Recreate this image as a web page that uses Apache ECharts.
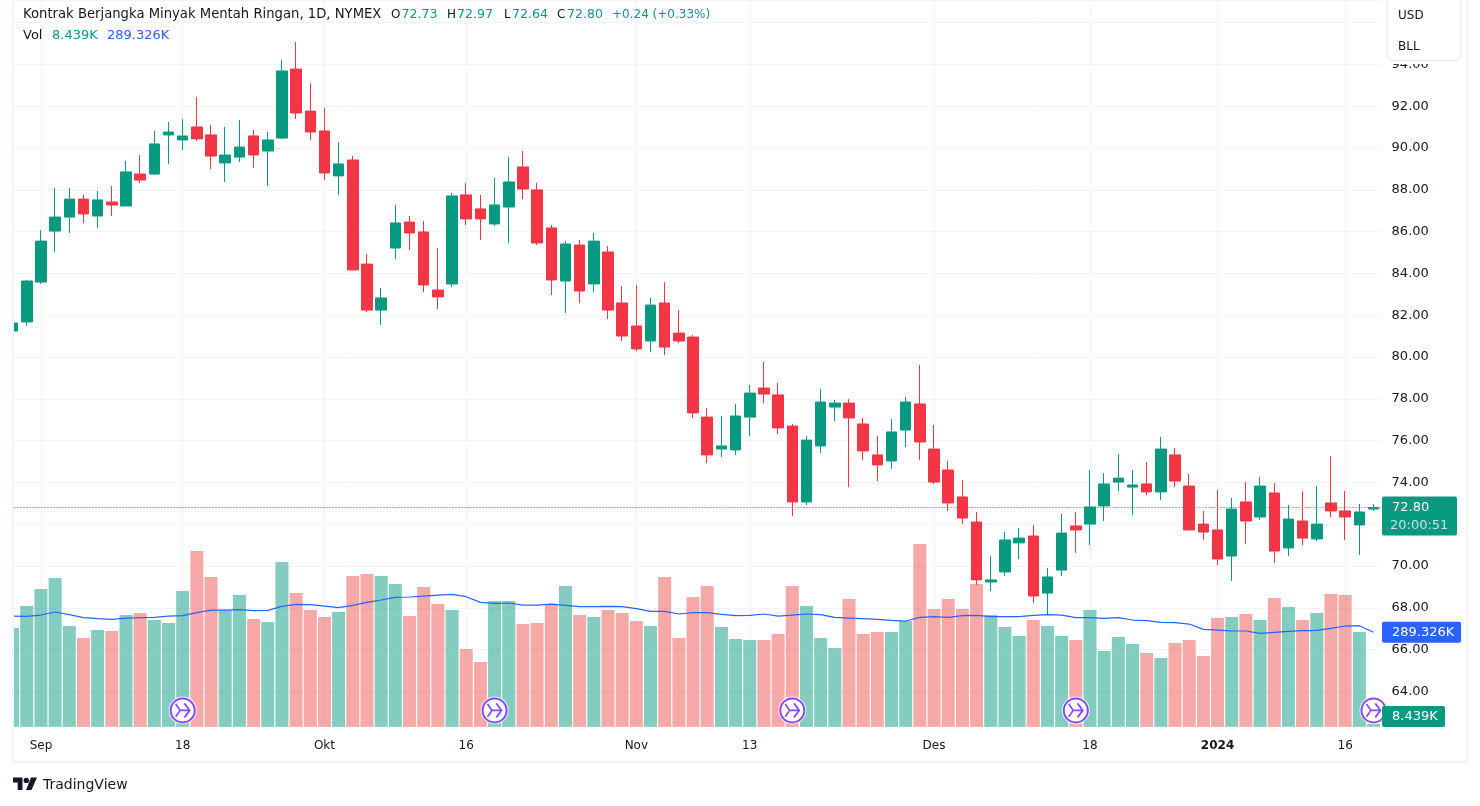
<!DOCTYPE html>
<html>
<head>
<meta charset="utf-8">
<style>html,body{margin:0;padding:0;background:#fff}#c{width:1480px;height:806px}</style>
<script src="https://cdn.jsdelivr.net/npm/echarts@6/dist/echarts.min.js"></script>
</head>
<body>
<div id="c"></div>
<script>
const categories = ["2023-08-30","2023-08-31","2023-09-01","2023-09-05","2023-09-06","2023-09-07","2023-09-08","2023-09-11","2023-09-12","2023-09-13","2023-09-14","2023-09-15","2023-09-18","2023-09-19","2023-09-20","2023-09-21","2023-09-22","2023-09-25","2023-09-26","2023-09-27","2023-09-28","2023-09-29","2023-10-02","2023-10-03","2023-10-04","2023-10-05","2023-10-06","2023-10-09","2023-10-10","2023-10-11","2023-10-12","2023-10-13","2023-10-16","2023-10-17","2023-10-18","2023-10-19","2023-10-20","2023-10-23","2023-10-24","2023-10-25","2023-10-26","2023-10-27","2023-10-30","2023-10-31","2023-11-01","2023-11-02","2023-11-03","2023-11-06","2023-11-07","2023-11-08","2023-11-09","2023-11-10","2023-11-13","2023-11-14","2023-11-15","2023-11-16","2023-11-17","2023-11-20","2023-11-21","2023-11-22","2023-11-24","2023-11-27","2023-11-28","2023-11-29","2023-11-30","2023-12-01","2023-12-04","2023-12-05","2023-12-06","2023-12-07","2023-12-08","2023-12-11","2023-12-12","2023-12-13","2023-12-14","2023-12-15","2023-12-18","2023-12-19","2023-12-20","2023-12-21","2023-12-22","2023-12-26","2023-12-27","2023-12-28","2023-12-29","2024-01-02","2024-01-03","2024-01-04","2024-01-05","2024-01-08","2024-01-09","2024-01-10","2024-01-11","2024-01-12","2024-01-16","2024-01-17","2024-01-18"];
const opens = [81.25,81.68,83.59,86.03,86.70,87.56,86.75,87.42,87.23,88.76,88.76,90.63,90.39,91.01,90.63,89.29,89.57,90.58,89.86,90.48,93.78,91.77,90.82,88.67,89.43,84.45,82.25,85.22,86.46,85.99,83.21,83.50,87.76,87.09,86.37,87.18,89.10,88.00,86.18,83.64,85.36,83.50,85.03,82.59,81.49,80.77,82.59,81.15,80.96,77.13,75.60,75.56,77.13,78.52,78.19,76.70,73.07,75.75,77.61,77.80,76.80,75.32,75.03,76.51,77.76,75.60,74.60,73.31,72.11,69.24,69.72,71.11,71.44,68.71,69.81,71.92,72.01,72.88,74.02,73.78,73.93,73.55,75.32,73.83,72.01,71.73,70.48,73.07,72.35,73.50,70.87,72.16,71.30,73.02,72.64,71.97,72.73];
const closes = [81.63,83.64,85.55,86.70,87.56,86.85,87.52,87.28,88.86,88.47,90.20,90.77,90.58,90.44,89.62,89.67,90.05,89.67,90.39,93.69,91.68,90.77,88.81,89.24,84.17,82.25,82.83,86.42,85.94,83.45,82.88,87.71,86.61,86.61,87.28,88.38,88.04,85.46,83.69,85.41,83.16,85.55,82.25,81.01,80.39,82.49,80.48,80.77,77.33,75.32,75.75,77.18,78.28,78.23,76.61,73.07,76.03,77.85,77.80,77.09,75.51,74.84,76.42,77.85,75.94,74.02,73.02,72.30,69.34,69.34,71.25,71.34,68.57,69.48,71.58,71.73,72.83,73.93,74.21,73.88,73.55,75.60,74.07,71.73,71.63,70.34,72.73,72.16,73.83,70.72,72.25,71.34,72.01,72.64,72.35,72.59,72.80];
const lows = [81.20,81.49,83.50,85.03,85.94,86.42,86.18,86.75,87.23,88.33,88.71,89.24,89.91,90.34,89.00,88.38,89.33,89.05,88.19,90.44,91.39,90.39,88.47,87.76,84.17,82.16,81.54,84.69,85.12,83.11,82.30,83.35,86.32,85.60,86.27,85.46,87.56,85.36,82.97,82.11,82.59,83.11,81.82,80.77,80.29,80.24,80.10,80.67,77.09,74.93,75.22,75.32,76.23,77.80,76.32,72.40,72.92,75.41,76.94,73.78,75.08,74.07,74.65,75.70,75.08,73.93,72.64,72.01,69.10,68.81,69.53,70.34,68.23,67.66,69.53,70.63,71.01,72.16,73.59,72.45,73.40,73.16,73.78,71.73,71.25,70.05,69.29,71.06,72.21,70.15,70.48,71.01,71.20,72.35,71.25,70.53,72.64];
const highs = [81.70,83.69,86.08,88.09,88.09,87.76,87.95,88.19,89.38,89.67,90.82,91.25,91.39,92.44,91.11,91.01,91.34,90.87,90.77,94.22,95.08,93.11,91.92,90.29,89.62,84.93,83.31,87.28,86.75,86.51,85.22,87.85,88.33,87.76,88.57,89.57,89.86,88.33,86.32,85.55,85.60,85.94,85.32,83.40,83.45,82.83,83.59,82.25,81.06,77.56,77.18,77.76,78.67,79.77,78.76,76.80,76.23,78.47,77.95,77.99,77.09,76.23,77.04,78.09,79.62,76.75,75.03,74.12,72.59,70.48,71.63,71.82,71.97,69.91,72.49,72.59,74.60,74.45,75.36,74.60,74.98,76.18,75.65,74.41,72.64,73.64,73.26,74.02,74.26,73.98,72.92,73.59,73.83,75.27,73.59,72.97,72.97];
const volumesK = [302.4,369.8,421.9,455.6,308.5,271.7,296.2,293.2,342.2,348.3,326.9,317.7,415.8,538.3,458.7,357.5,403.5,329.9,320.8,504.6,409.6,357.5,336.1,351.4,461.7,467.8,461.7,437.2,339.1,428.0,375.9,357.5,238.0,198.2,385.1,385.1,314.6,317.7,372.8,431.1,342.2,336.1,357.5,348.3,323.8,308.5,458.7,271.7,397.4,431.1,305.4,268.7,265.6,265.6,284.0,431.1,369.8,271.7,241.1,391.2,284.0,290.1,290.1,323.8,559.8,360.6,391.2,360.6,437.2,342.2,305.4,277.8,326.9,308.5,277.8,265.6,357.5,231.9,274.8,253.3,225.8,210.4,256.4,265.6,216.6,333.0,336.1,345.3,326.9,394.3,366.7,326.9,348.3,406.6,403.5,290.1,8.439];
const volumeMAK = [339.1,338.1,342.2,351.4,343.2,334.0,331.0,328.9,333.0,334.0,335.1,339.1,340.2,349.4,357.5,357.5,358.6,355.5,356.5,368.8,374.9,373.9,369.8,364.7,371.8,381.0,388.2,396.3,397.4,400.4,403.5,405.5,398.4,381.0,378.0,379.0,372.8,372.8,375.9,371.8,367.7,367.7,368.8,367.7,361.6,353.4,353.4,345.3,349.4,349.4,344.2,340.2,341.2,345.3,339.1,342.2,345.3,343.2,335.1,333.0,331.0,328.9,325.9,323.8,335.1,337.1,335.1,340.2,341.2,337.1,337.1,337.1,341.2,343.2,342.2,334.0,334.0,332.0,334.0,326.9,324.8,319.7,318.7,314.6,298.3,296.2,293.2,293.2,286.0,289.1,292.1,294.2,295.2,301.3,308.5,309.5,289.326];
const tickLabels = {"2023-09-01":"Sep","2023-09-18":"18","2023-10-02":"Okt","2023-10-16":"16","2023-11-01":"Nov","2023-11-13":"13","2023-12-01":"Des","2023-12-18":"18","2024-01-02":"2024","2024-01-16":"16"};
const eventDates = ["2023-09-18","2023-10-18","2023-11-16","2023-12-15","2024-01-18"];
const eventLevelK = 50;
const lastPrice = 72.80;
const lastVolK = 8.439;
const lastMAK = 289.326;

const GREEN = '#089981', RED = '#F23645', BLUE = '#2962FF', INK = '#131722', GRID = '#f1f3f6', FRAME = '#f0f3fa', PURPLE = '#6a1bff';
const FONT = '"DejaVu Sans"';
const PRICE_TOP = 97.086, PRICE_BOT = 62.316, VOL_MAX = 2227;
const GL = 5.5, GW = 1375.1, GH = 726.7;

const isTick = (i) => tickLabels[categories[i]] !== undefined;
const up = (i) => closes[i] >= opens[i];

const chart = echarts.init(document.getElementById('c'), null, {renderer: 'canvas'});
const evItems = eventDates.map(d => [d, eventLevelK]);
const icon = 'path://M2 4L7 9L17 9M2 14L7 9M12 3.5L18 9L12 14.5';

chart.setOption({
  animation: false,
  backgroundColor: '#fff',
  grid: {left: GL, top: 0, width: GW, height: GH, containLabel: false},
  xAxis: {
    type: 'category', data: categories, boundaryGap: true,
    axisLine: {show: false}, axisTick: {show: false},
    splitLine: {show: true, alignWithLabel: true, interval: (i) => isTick(i), lineStyle: {color: GRID, width: 1}},
    axisLabel: {
      interval: (i) => isTick(i), margin: 13, hideOverlap: false,
      color: INK, fontFamily: FONT, fontSize: 12,
      formatter: (v) => { const t = tickLabels[v]; return t === '2024' ? '{b|2024}' : t; },
      rich: {b: {fontWeight: 'bold', color: INK, fontFamily: FONT, fontSize: 12}}
    }
  },
  yAxis: [{
    type: 'value', position: 'right', min: PRICE_BOT, max: PRICE_TOP, splitNumber: 17, scale: true,
    axisLine: {show: false}, axisTick: {show: false},
    splitLine: {show: true, lineStyle: {color: GRID, width: 1}},
    axisLabel: {
      margin: 11, color: INK, fontFamily: FONT, fontSize: 13, showMinLabel: false, showMaxLabel: false,
      formatter: (v) => v.toFixed(2)
    }
  }, {
    type: 'value', position: 'right', min: 0, max: VOL_MAX, show: false, splitLine: {show: false}
  }],
  series: [
    {
      name: 'Vol', type: 'bar', yAxisIndex: 1, barWidth: 13, z: 1,
      data: volumesK.map((v, i) => ({value: v, itemStyle: {color: up(i) ? 'rgba(8,153,129,0.5)' : 'rgba(239,83,80,0.5)'}}))
    },
    {
      name: 'Price', type: 'candlestick', barWidth: 11, z: 3,
      data: opens.map((o, i) => [o, closes[i], lows[i], highs[i]]),
      itemStyle: {color: GREEN, color0: RED, borderColor: GREEN, borderColor0: RED, borderWidth: 1},
      markLine: {
        silent: true, symbol: 'none', animation: false, label: {show: false},
        lineStyle: {color: GREEN, type: [1, 2], width: 1},
        data: [{yAxis: lastPrice}]
      }
    },
    {
      name: 'MA', type: 'line', yAxisIndex: 1, data: volumeMAK, showSymbol: false, smooth: false, z: 4,
      lineStyle: {color: BLUE, width: 1.2}, itemStyle: {color: BLUE}
    },
    {type: 'scatter', yAxisIndex: 1, data: evItems, symbol: 'circle', symbolSize: 28, z: 5, clip: false, itemStyle: {color: '#fff'}},
    {type: 'scatter', yAxisIndex: 1, data: evItems, symbol: 'circle', symbolSize: 24, z: 6, clip: false, itemStyle: {color: '#fff', borderColor: PURPLE, borderWidth: 2}},
    {type: 'scatter', yAxisIndex: 1, data: evItems, symbol: icon, symbolSize: 14, z: 7, clip: false, itemStyle: {color: 'rgba(0,0,0,0)', borderColor: PURPLE, borderWidth: 1.7}}
  ]
});

const yP = chart.convertToPixel({yAxisIndex: 0}, lastPrice);
const yVol = chart.convertToPixel({yAxisIndex: 1}, lastVolK);
const yMA = chart.convertToPixel({yAxisIndex: 1}, lastMAK);
const txt = (x, y, s, fill, size) => ({type: 'text', z: 200, style: {x, y, text: s, fill, fontFamily: FONT, fontSize: size || 12, verticalAlign: 'middle'}});
const rect = (x, y, w, h, fill, r, extra) => ({type: 'rect', z: 150, shape: {x, y, width: w, height: h, r: r || 0}, style: Object.assign({fill}, extra || {})});
const poly = (pts) => ({type: 'polygon', z: 200, shape: {points: pts}, style: {fill: INK}});

chart.setOption({
  graphic: {elements: [
    rect(0, 0, 12, 806, '#fff'),
    rect(12, 0, 2, 763, FRAME),
    rect(1466, 0, 2, 763, FRAME),
    rect(12, 761, 1456, 2, FRAME),
    rect(1387, 0, 74, 64, '#fff'),
    rect(1387, -6, 74, 66.5, '#fff', 5, {stroke: '#e0e3eb', lineWidth: 1}),
    txt(1398, 15.5, 'USD', INK), txt(1398, 46.5, 'BLL', INK),
    txt(23, 15, 'Kontrak Berjangka Minyak Mentah Ringan, 1D, NYMEX', INK, 13.2),
    txt(391, 15, 'O', INK), txt(401.5, 15, '72.73', GREEN, 12.6),
    txt(447, 15, 'H', INK), txt(457, 15, '72.97', GREEN, 12.6),
    txt(504, 15, 'L', INK), txt(512, 15, '72.64', GREEN, 12.6),
    txt(557, 15, 'C', INK), txt(567, 15, '72.80', GREEN, 12.6),
    txt(612, 15, '+0.24 (+0.33%)', GREEN),
    txt(23, 35.5, 'Vol', INK, 13), txt(52, 35.5, '8.439K', GREEN, 13), txt(107, 35.5, '289.326K', BLUE, 13),
    rect(1382, yP - 11, 75, 39, GREEN, 2),
    txt(1392, yP + 0.5, '72.80', '#fff', 13),
    txt(1390, yP + 18.5, '20:00:51', 'rgba(255,255,255,0.75)', 13),
    rect(1382, yMA - 10.5, 79, 21, BLUE, 2),
    txt(1392, yMA + 0.5, '289.326K', '#fff', 13),
    rect(1382, yVol - 18, 63, 21, GREEN, 2),
    txt(1392, yVol - 7, '8.439K', '#fff', 13),
    poly([[13, 777.5],[22.5, 777.5],[22.5, 790],[17.7, 790],[17.7, 782.5],[13, 782.5]]),
    poly([[31.5, 790],[26, 790],[31, 777.5],[37, 777.5]]),
    {type: 'circle', z: 200, shape: {cx: 26.3, cy: 780.4, r: 2.7}, style: {fill: INK}},
    txt(43, 785, 'TradingView', INK, 14)
  ]}
});
</script>
</body>
</html>
